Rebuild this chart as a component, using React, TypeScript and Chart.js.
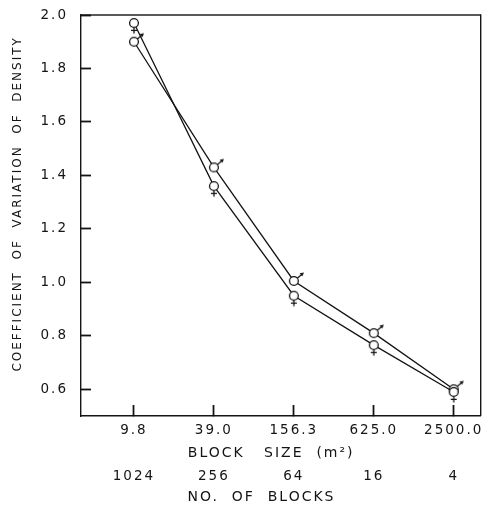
import { useEffect, useRef } from "react";
import { Chart, registerables } from "chart.js";

Chart.register(...registerables);

const blockSizes = ["9.8", "39.0", "156.3", "625.0", "2500.0"];
const blockCounts = ["1024", "256", "64", "16", "4"];
const femaleCv = [1.97, 1.36, 0.95, 0.765, 0.59];
const maleCv = [1.9, 1.43, 1.005, 0.81, 0.6];
const yTickValues = [0.6, 0.8, 1.0, 1.2, 1.4, 1.6, 1.8, 2.0];

const INK = "#141414";
const FONT = "'DejaVu Sans', sans-serif";
const SPACING = "2px";

function makeMarker(kind: "male" | "female"): HTMLCanvasElement {
  const c = document.createElement("canvas");
  c.width = 28;
  c.height = 28;
  const g = c.getContext("2d")!;
  const cx = 14, cy = 14, r = 4.4;
  g.strokeStyle = INK;
  g.fillStyle = "#fff";
  g.lineWidth = 1.3;
  g.beginPath();
  g.arc(cx, cy, r, 0, Math.PI * 2);
  g.fill();
  g.stroke();
  if (kind === "male") {
    const sx = cx + r * 0.75, sy = cy - r * 0.65;
    const tx = cx + 9, ty = cy - 7.5;
    g.beginPath();
    g.moveTo(sx, sy);
    g.lineTo(tx, ty);
    g.stroke();
    g.fillStyle = INK;
    g.beginPath();
    g.moveTo(tx + 1, ty - 1);
    g.lineTo(tx - 3.2, ty - 0.2);
    g.lineTo(tx - 0.6, ty + 3);
    g.closePath();
    g.fill();
  } else {
    g.beginPath();
    g.moveTo(cx, cy + r);
    g.lineTo(cx, cy + r + 6);
    g.moveTo(cx - 3, cy + r + 3);
    g.lineTo(cx + 3, cy + r + 3);
    g.stroke();
  }
  return c;
}

const spacingPlugin = {
  id: "spacing",
  beforeUpdate(chart: any) {
    chart.ctx.letterSpacing = SPACING;
  },
  beforeLayout(chart: any) {
    chart.ctx.letterSpacing = SPACING;
  },
  beforeDraw(chart: any) {
    chart.ctx.letterSpacing = SPACING;
  },
};

const framePlugin = {
  id: "frame",
  afterDraw(chart: any) {
    const ctx = chart.ctx;
    const area = chart.chartArea;
    ctx.save();
    ctx.fillStyle = INK;
    ctx.fillRect(area.left, area.top - 0.7, area.right - area.left, 1.4);
    ctx.fillRect(area.right - 0.7, area.top - 0.7, 1.4, area.bottom - area.top + 0.7);
    ctx.restore();
  },
};

export default function App() {
  const ref = useRef<HTMLCanvasElement | null>(null);

  useEffect(() => {
    if (!ref.current) return;
    const maleMarker = makeMarker("male");
    const femaleMarker = makeMarker("female");
    const xMin = -0.6625;
    const xMax = 4.3375;
    const tickFont = { family: FONT, size: 13.5 };
    const titleFont = { family: FONT, size: 14 };

    const chart = new Chart(ref.current, {
      type: "line",
      data: {
        datasets: [
          {
            label: "Female",
            data: femaleCv.map((v, i) => ({ x: i, y: v })),
            borderColor: INK,
            borderWidth: 1.3,
            pointStyle: femaleMarker as any,
            pointRadius: 5,
            tension: 0,
          },
          {
            label: "Male",
            data: maleCv.map((v, i) => ({ x: i, y: v })),
            borderColor: INK,
            borderWidth: 1.3,
            pointStyle: maleMarker as any,
            pointRadius: 5,
            tension: 0,
          },
        ],
      },
      options: {
        animation: false,
        responsive: true,
        maintainAspectRatio: false,
        layout: { padding: { top: 15, right: 6, left: 0, bottom: 0 } },
        plugins: { legend: { display: false }, tooltip: { enabled: false } },
        scales: {
          x: {
            type: "linear",
            position: "bottom",
            weight: 0,
            min: xMin,
            max: xMax,
            grid: {
              display: true,
              drawOnChartArea: false,
              drawTicks: true,
              tickLength: -11,
              tickWidth: 1.8,
              tickColor: INK,
            },
            border: { display: true, color: INK, width: 1.4 },
            afterBuildTicks: (s: any) => {
              s.ticks = blockSizes.map((_, i) => ({ value: i }));
            },
            afterFit: (s: any) => {
              s.height = 47;
              s.paddingLeft = 0;
              s.paddingRight = 0;
            },
            ticks: {
              color: INK,
              font: tickFont,
              padding: 17,
              maxRotation: 0,
              autoSkip: false,
              callback: (v: any) => blockSizes[v] ?? "",
            },
            title: {
              display: true,
              text: "BLOCK   SIZE  (m²)   ",
              color: INK,
              font: titleFont,
              padding: { top: 0, bottom: 1 },
            },
          },
          x2: {
            type: "linear",
            axis: "x",
            position: "bottom",
            weight: 1,
            min: xMin,
            max: xMax,
            grid: { display: false, drawTicks: false },
            border: { display: false },
            afterBuildTicks: (s: any) => {
              s.ticks = blockCounts.map((_, i) => ({ value: i }));
            },
            afterFit: (s: any) => {
              s.height = 43;
              s.paddingLeft = 0;
              s.paddingRight = 0;
            },
            ticks: {
              color: INK,
              font: tickFont,
              padding: 5,
              maxRotation: 0,
              autoSkip: false,
              callback: (v: any) => blockCounts[v] ?? "",
            },
            title: {
              display: true,
              text: "NO.  OF  BLOCKS      ",
              color: INK,
              font: titleFont,
              padding: { top: 0, bottom: 0 },
            },
          },
          y: {
            type: "linear",
            min: 0.5,
            max: 2.0,
            grid: {
              display: true,
              drawOnChartArea: false,
              drawTicks: true,
              tickLength: -10,
              tickWidth: 1.8,
              tickColor: INK,
            },
            border: { display: true, color: INK, width: 1.4 },
            afterBuildTicks: (s: any) => {
              s.ticks = yTickValues.map((v) => ({ value: v }));
            },
            afterFit: (s: any) => {
              s.width = 81;
              s.paddingTop = 0;
              s.paddingBottom = 0;
            },
            ticks: {
              color: INK,
              font: tickFont,
              padding: 23,
              callback: (v: any) => Number(v).toFixed(1),
            },
            title: {
              display: true,
              text: "    COEFFICIENT  OF  VARIATION  OF  DENSITY",
              color: INK,
              font: { family: FONT, size: 12 },
              padding: { top: 11, bottom: 0 },
            },
          },
        },
      },
      plugins: [spacingPlugin, framePlugin],
    });
    return () => chart.destroy();
  }, []);

  return (
    <div style={{ position: "fixed", left: 0, top: 0, width: 487, height: 506, background: "#fff" }}>
      <canvas ref={ref} />
    </div>
  );
}
